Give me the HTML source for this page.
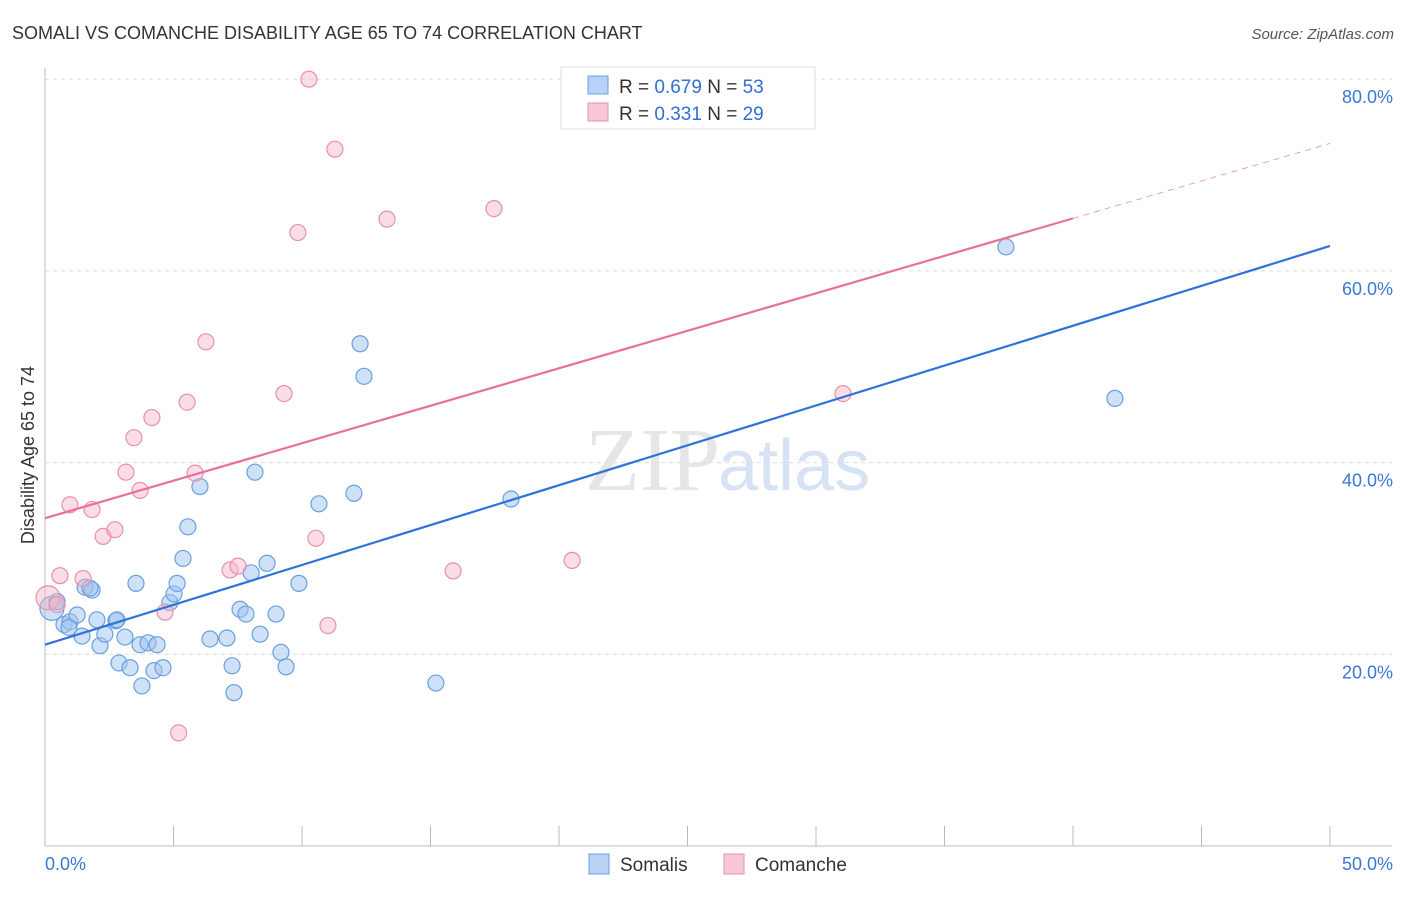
<!DOCTYPE html>
<html><head><meta charset="utf-8"><style>
body{margin:0;background:#fff;font-family:"Liberation Sans",sans-serif}
</style></head><body>
<svg id="c" width="1406" height="892" xmlns="http://www.w3.org/2000/svg">
<text x="12" y="39" font-size="18" fill="#333">SOMALI VS COMANCHE DISABILITY AGE 65 TO 74 CORRELATION CHART</text>
<text x="1394" y="39" font-size="15" fill="#555" font-style="italic" text-anchor="end">Source: ZipAtlas.com</text>
<text x="720" y="490" font-size="90" fill="#e6e6e6" font-family="Liberation Serif" text-anchor="end">ZIP</text>
<text x="718" y="490" font-size="72" fill="#d5e3f5">atlas</text>
<text transform="translate(34,455) rotate(-90)" font-size="18" fill="#333" text-anchor="middle">Disability Age 65 to 74</text>
<g id="grid"></g><g id="marks"></g>
<g>
<rect x="561" y="67" width="254" height="62" fill="#fff" stroke="#ddd"/>
<rect x="588" y="76" width="20" height="18" fill="#b8d2f5" stroke="#6a9fe0"/>
<text x="619" y="93" font-size="19" fill="#333">R = <tspan fill="#2f6fd6">0.679</tspan>   N = <tspan fill="#2f6fd6">53</tspan></text>
<rect x="588" y="103" width="20" height="18" fill="#f9c6d5" stroke="#e890aa"/>
<text x="619" y="120" font-size="19" fill="#333">R =  <tspan fill="#2f6fd6">0.331</tspan>   N = <tspan fill="#2f6fd6">29</tspan></text>
</g>
<g>
<rect x="589" y="854" width="20" height="20" fill="#b8d2f5" stroke="#6a9fe0"/>
<text x="620" y="871" font-size="19" fill="#333">Somalis</text>
<rect x="724" y="854" width="20" height="20" fill="#f9c6d5" stroke="#e890aa"/>
<text x="755" y="871" font-size="19" fill="#333">Comanche</text>
</g>
</svg>
<script>
const yTicks=[20,40,60,80];
const yTickLabels=["20.0%","40.0%","60.0%","80.0%"];
const xTickLabels=["0.0%","50.0%"];
const somaliX=[0.27,0.47,0.74,0.97,1.25,1.56,1.83,2.02,2.14,2.33,1.44,2.76,2.88,3.11,3.31,3.54,3.70,3.77,4.01,4.24,4.36,4.59,4.86,5.02,5.14,5.37,5.56,6.03,6.42,7.08,7.28,7.35,7.59,7.82,8.02,8.17,8.37,8.64,8.99,9.18,9.38,9.88,10.66,12.02,12.26,12.41,15.21,18.13,37.39,41.63,0.93,2.80,1.75];
const somaliY=[24.8,25.5,23.1,23.4,24.1,27.0,26.7,23.6,20.9,22.1,21.9,23.5,19.1,21.8,18.6,27.4,21.0,16.7,21.2,18.3,21.0,18.6,25.4,26.3,27.4,30.0,33.3,37.5,21.6,21.7,18.8,16.0,24.7,24.2,28.5,39.0,22.1,29.5,24.2,20.2,18.7,27.4,35.7,36.8,52.4,49.0,17.0,36.2,62.5,46.7,22.8,23.6,26.9];
const comancheX=[0.12,0.47,0.58,0.97,1.48,1.83,2.26,2.72,3.15,3.46,3.70,4.16,4.67,5.53,5.84,6.26,7.20,7.51,9.30,9.84,10.27,10.54,11.01,11.28,13.31,15.88,17.47,20.51,31.05,5.2];
const comancheY=[25.9,25.2,28.2,35.6,27.9,35.1,32.3,33.0,39.0,42.6,37.1,44.7,24.4,46.3,38.9,52.6,28.8,29.2,47.2,64.0,80.0,32.1,23.0,72.7,65.4,28.7,66.5,29.8,47.2,11.8];
const somaliTrend=[21.0,62.6];
const comancheTrend=[34.2,73.3];
const comancheSolidEnd=40;
const X=v=>45+v/50*1285, Y=v=>846-v/20*191.7;
const NS="http://www.w3.org/2000/svg";
function mk(t,a,p){const e=document.createElementNS(NS,t);for(const k in a)e.setAttribute(k,a[k]);p.appendChild(e);return e;}
const g=document.getElementById('grid'), m=document.getElementById('marks');
yTicks.forEach((t,i)=>{
 const l=mk('line',{x1:45,x2:1392,y1:Y(t),y2:Y(t),stroke:'#ddd','stroke-dasharray':'4,4'},g);
 
 
 const tx=mk('text',{x:1393,y:Y(t)+24,'font-size':18,fill:'#3a78d6','text-anchor':'end'},g);
 tx.textContent=yTickLabels[i];
 
 
});
mk('line',{x1:45,x2:45,y1:68,y2:846,stroke:'#bbb'},g);
mk('line',{x1:45,x2:1392,y1:846,y2:846,stroke:'#bbb'},g);
for(let i=0;i<=10;i++){mk('line',{x1:X(i*5),x2:X(i*5),y1:826,y2:846,stroke:'#bbb'},g);}
[[0,45,'start'],[50,1393,'end']].forEach((d,i)=>{
 const tx=mk('text',{x:d[1],y:870,'font-size':18,fill:'#3a78d6','text-anchor':d[2]},g);
 tx.textContent=xTickLabels[i];
 
 
});
function pts(xs,ys,fill,stroke,name){
 xs.forEach((x,i)=>{
  const big=x<0.3;
  const c=mk('circle',{cx:X(x),cy:Y(ys[i]),r:big?12:8,fill:fill,stroke:stroke,'stroke-width':1.2},m);
  
  
 });
}
pts(somaliX,somaliY,'rgba(160,195,240,0.5)','#6a9fe0','somali-point');
pts(comancheX,comancheY,'rgba(245,180,200,0.45)','#e890aa','comanche-point');
const bl=mk('line',{x1:X(0),y1:Y(somaliTrend[0]),x2:X(50),y2:Y(somaliTrend[1]),stroke:'#2f72d8','stroke-width':2.2},m);


const pAt=x=>comancheTrend[0]+(comancheTrend[1]-comancheTrend[0])*x/50;
const pl=mk('line',{x1:X(0),y1:Y(pAt(0)),x2:X(comancheSolidEnd),y2:Y(pAt(comancheSolidEnd)),stroke:'#e8709a','stroke-width':2.2},m);


const pd=mk('line',{x1:X(comancheSolidEnd),y1:Y(pAt(comancheSolidEnd)),x2:X(50),y2:Y(pAt(50)),stroke:'#e8a0b8','stroke-width':1,'stroke-dasharray':'6,5'},m);


</script>
</body></html>
